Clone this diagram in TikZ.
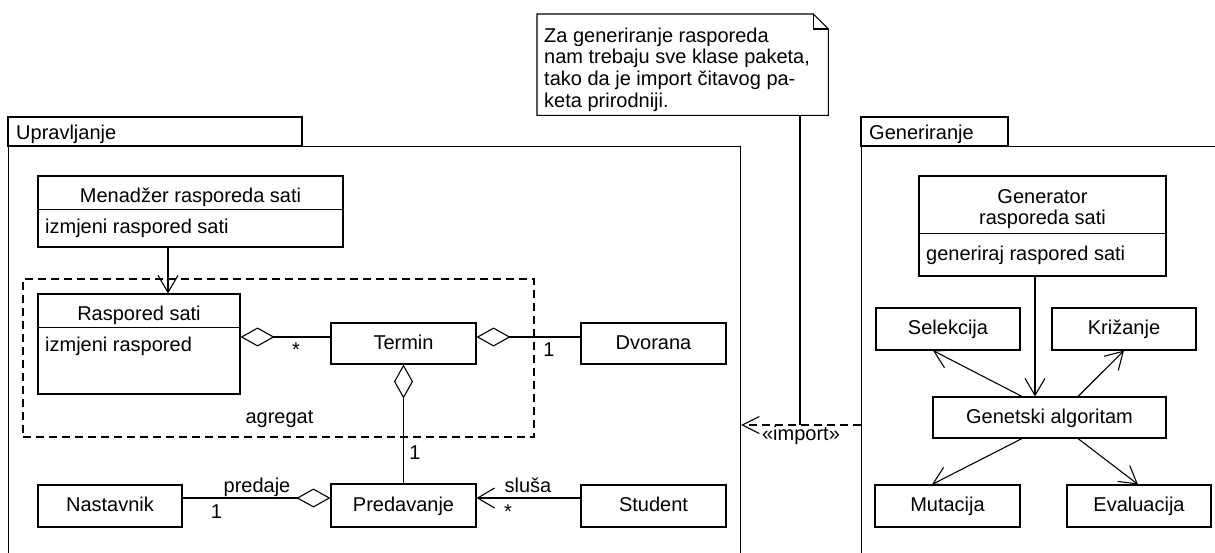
\documentclass[tikz,border=0pt]{standalone}
\usepackage{fontspec}
\setmainfont{Liberation Sans}
\usetikzlibrary{arrows.meta,calc}
\begin{document}
\begin{tikzpicture}[x=1pt,y=-1pt,
  font=\fontsize{20}{21.5}\selectfont,
  ln/.style={line width=1.1pt},
  box/.style={draw, ln, rectangle, inner sep=0pt, text height=11pt, text depth=0pt},
  lbl/.style={inner sep=0pt},
  opn/.style={ln, -{Straight Barb[length=17pt,width=20pt]}},
  agg/.style={ln, {Diamond[open,length=34pt,width=19pt]}-},
  aggend/.style={ln, -{Diamond[open,length=34pt,width=19pt]}},
  dsh/.style={dash pattern=on 8pt off 5pt},
]
\useasboundingbox (0,0) rectangle (1215,552);

% ---- packages ----
\node[draw, ln, minimum width=294pt, minimum height=29pt, inner sep=0pt] (uprtab) at (155,131.5) {};
\node[lbl, anchor=base west] (uprlbl) at (16,139) {Upravljanje};
\node[draw, ln, minimum width=732pt, minimum height=420pt, inner sep=0pt, anchor=north west] (upr) at (8,146) {};

\node[draw, ln, minimum width=147pt, minimum height=29pt, inner sep=0pt] (gentab) at (934.5,131.5) {};
\node[lbl, anchor=base west] (genlbl) at (869,139) {Generiranje};
\node[draw, ln, minimum width=370pt, minimum height=420pt, inner sep=0pt, anchor=north west] (gen) at (861,146) {};

% ---- note ----
\node[minimum width=291pt, minimum height=101pt, inner sep=0pt, anchor=north west] (note) at (537,14) {};
\draw[ln] (note.north west) -- ([xshift=-15pt]note.north east) -- ([yshift=-15pt]note.north east)
  -- (note.south east) -- (note.south west) -- cycle;
\draw[ln] ([xshift=-15pt]note.north east) -- ([xshift=-15pt,yshift=-15pt]note.north east) -- ([yshift=-15pt]note.north east);
\node[lbl, anchor=north west, align=left, font=\fontsize{20}{21.7}\selectfont] (notetxt) at (544,27.4)
  {Za generiranje rasporeda\\nam trebaju sve klase paketa,\\tako da je import čitavog pa-\\keta prirodniji.};

% ---- import dependency ----
\coordinate (imp) at (800,425);
\draw[ln] (note.south -| imp) -- (imp);
\draw[ln, dsh, -{Straight Barb[length=17pt,width=17pt]}] (gen.west |- imp) -- (upr.east |- imp);
\node[lbl, anchor=base] (implbl) at (801,440) {«import»};

% ---- Upravljanje contents ----
\node[draw, ln, dsh, minimum width=511pt, minimum height=158pt, inner sep=0pt] (grp) at (278.5,358) {};
\node[lbl, anchor=base] (grplbl) at (279.5,423) {agregat};

\node[box, minimum width=305pt, minimum height=71pt] (men) at (190.5,211.5) {};
\draw[ln] ([yshift=-34pt]men.north west) -- ([yshift=-34pt]men.north east);
\node[lbl, anchor=base] (mentl) at (190.5,202) {Menadžer rasporeda sati};
\node[lbl, anchor=base west] (menop) at (45,233) {izmjeni raspored sati};

\node[box, minimum width=202pt, minimum height=100pt] (ras) at (139,344) {};
\draw[ln] ([yshift=-34pt]ras.north west) -- ([yshift=-34pt]ras.north east);
\node[lbl, anchor=base] (rastl) at (139,320) {Raspored sati};
\node[lbl, anchor=base west] (rasop) at (45,351) {izmjeni raspored};

\node[box, minimum width=145pt, minimum height=41pt] (termin) at (403.5,343.5) {Termin};
\node[box, minimum width=145pt, minimum height=41pt] (dvo) at (653.5,343.5) {Dvorana};
\node[box, minimum width=145pt, minimum height=43pt] (pred) at (403.5,505.5) {Predavanje};
\node[box, minimum width=144pt, minimum height=42pt] (nas) at (110,506) {Nastavnik};
\node[box, minimum width=145pt, minimum height=42pt] (stu) at (653.5,506) {Student};

\coordinate (ms) at ([xshift=-22.5pt]men.south);
\draw[opn] (ms) -- (ms |- ras.north);

\coordinate (tw) at ([yshift=6.5pt]termin.west);
\draw[agg] (tw -| ras.east) -- (tw);
\coordinate (te) at ([yshift=6.5pt]termin.east);
\draw[agg] (te) -- (te -| dvo.west);
\draw[agg] (termin.south) -- (pred.north);
\coordinate (pw) at ([yshift=7.5pt]pred.west);
\draw[aggend] (pw -| nas.east) -- (pw);
\coordinate (pe) at ([yshift=7.5pt]pred.east);
\draw[opn] (pe -| stu.west) -- (pe);

\node[lbl, anchor=base] (m1) at (296,356.5) {*};
\node[lbl, anchor=base] (m2) at (549,356.7) {1};
\node[lbl, anchor=base] (m3) at (415,459) {1};
\node[lbl, anchor=base] (m4) at (216.5,518) {1};
\node[lbl, anchor=base] (l1) at (257,492) {predaje};
\node[lbl, anchor=base] (l2) at (528,492) {sluša};
\node[lbl, anchor=base] (m5) at (508,518.5) {*};

% ---- Generiranje contents ----
\node[box, minimum width=247pt, minimum height=100pt] (gnr) at (1042.5,226) {};
\draw[ln] ([yshift=-58pt]gnr.north west) -- ([yshift=-58pt]gnr.north east);
\node[lbl, anchor=north, align=center, font=\fontsize{20}{21}\selectfont] (gnrtl) at (1042.5,189.7) {Generator\\rasporeda sati};
\node[lbl, anchor=base west] (gnrop) at (926,260) {generiraj raspored sati};

\node[box, minimum width=144pt, minimum height=42pt] (sel) at (948,329) {Selekcija};
\node[box, minimum width=144pt, minimum height=42pt] (kri) at (1124,329) {Križanje};
\node[box, minimum width=233pt, minimum height=41pt] (ga) at (1049.5,417.5) {Genetski algoritam};
\node[box, minimum width=145pt, minimum height=42pt] (mut) at (947.5,506) {Mutacija};
\node[box, minimum width=144pt, minimum height=42pt] (eva) at (1139,506) {Evaluacija};

\coordinate (gs) at ([xshift=-7.5pt]gnr.south);
\draw[opn] (gs) -- (gs |- ga.north);
\draw[opn] ([xshift=-27.5pt]ga.north) -- ([xshift=-15pt]sel.south);
\draw[opn] ([xshift=28.5pt]ga.north) -- (kri.south);
\draw[opn] ([xshift=-27.5pt]ga.south) -- ([xshift=-15.5pt]mut.north);
\draw[opn] ([xshift=28.5pt]ga.south) -- ([xshift=-1pt]eva.north);
\end{tikzpicture}
\end{document}
